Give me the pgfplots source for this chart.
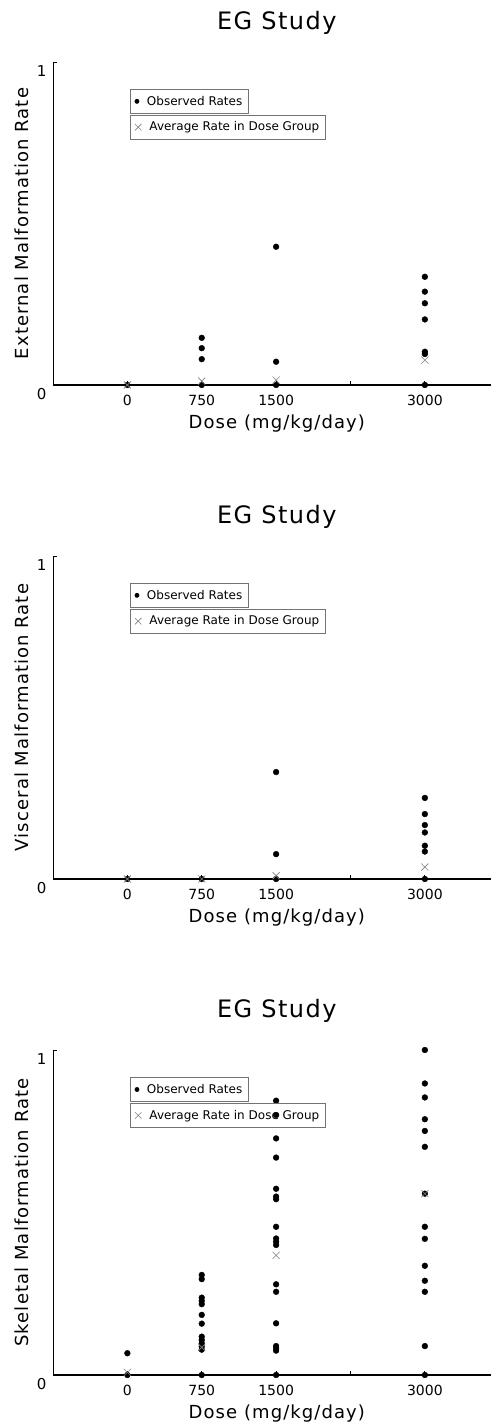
\documentclass[border=0pt]{standalone}
\usepackage{fontspec}
\setmainfont{DejaVu Sans}
\newfontfamily\spacedfont[LetterSpace=6]{DejaVu Sans}
\usepackage{pgfplots}
\pgfplotsset{compat=1.18}

\definecolor{avggray}{gray}{0.5}
\definecolor{boxgray}{gray}{0.45}

\pgfplotsset{
  egbase/.style={
    scale only axis, width=438pt, height=323pt,
    xmin=-750, xmax=3667, ymin=0, ymax=1,
    anchor=south west,
  },
  egleg/.style={
    legend style={
      anchor=north west, draw=boxgray, line width=0.8pt, fill=none,
      inner xsep=4.5pt, inner ysep=4.5pt,
      font=\fontsize{12}{14}\selectfont,
      /tikz/every odd column/.append style={column sep=6pt},
    },
    legend cell align=left,
  },
  egframe/.style={
    egbase, egleg,
    axis x line=bottom, axis y line=left,
    axis line style={-},
    x axis line style={line width=2pt, black},
    y axis line style={line width=0.9pt, black},
    axis on top,
    xtick={0,750,1500,2250,3000}, xticklabels={0,750,1500,,3000},
    ytick={0,1}, yticklabels={0,1},
    tick align=inside, major tick length=4pt,
    tick style={black, line width=0.8pt},
    xticklabel style={font=\fontsize{14}{14}\selectfont, yshift=-7pt},
    yticklabel style={font=\fontsize{15}{15}\selectfont, yshift=-9pt, xshift=-3pt},
    title style={at={(axis description cs:0.511,1.102)}, anchor=center,
      font=\spacedfont\fontsize{24}{24}\selectfont},
    xlabel style={at={(axis description cs:0.511,-0.118)}, anchor=center,
      font=\spacedfont\fontsize{18}{18}\selectfont},
    ylabel style={at={(axis description cs:-0.0708,0.5)}, anchor=center,
      font=\spacedfont\fontsize{18}{18}\selectfont},
    title={EG Study},
    xlabel={Dose (mg/kg/day)},
    legend style={at={(axis description cs:0.176,0.916)}},
    legend image code/.code={\draw[mark repeat=1,##1,mark size=2pt] plot coordinates {(0pt,0pt)};},
  },
  egover/.style={
    egbase, egleg, hide axis,
    legend style={at={(axis description cs:0.176,0.836)}},
    legend image code/.code={\draw[mark repeat=1,##1,mark size=4.6pt] plot coordinates {(0pt,0pt)};},
  },
  obs/.style={only marks, mark=*, mark size=2.9pt, black, mark options={fill=black, draw=black}},
  avg/.style={only marks, mark=x, mark size=5pt, avggray, mark options={line width=0.6pt}},
}

\begin{document}
\begin{tikzpicture}
\useasboundingbox (0,0) rectangle (491pt,1428pt);

% ---------------- External malformations ----------------
\begin{axis}[egframe, at={(53pt,1043pt)}, ylabel={External Malformation Rate}]
\addplot[obs] coordinates {
  (0,0)
  (750,0.146) (750,0.114) (750,0.080) (750,0)
  (1500,0.428) (1500,0.072) (1500,0)
  (3000,0.335) (3000,0.289) (3000,0.253) (3000,0.203) (3000,0.103) (3000,0.096) (3000,0)
};
\addlegendentry{Observed Rates}
\end{axis}
\begin{axis}[egover, at={(53pt,1043pt)}]
\addplot[avg] coordinates {(0,0) (750,0.012) (1500,0.015) (3000,0.077)};
\addlegendentry{Average Rate in Dose Group}
\end{axis}

% ---------------- Visceral malformations ----------------
\begin{axis}[egframe, at={(53pt,549pt)}, ylabel={Visceral Malformation Rate}]
\addplot[obs] coordinates {
  (0,0)
  (750,0)
  (1500,0.331) (1500,0.077) (1500,0)
  (3000,0.251) (3000,0.201) (3000,0.167) (3000,0.144) (3000,0.103) (3000,0.085) (3000,0)
};
\addlegendentry{Observed Rates}
\end{axis}
\begin{axis}[egover, at={(53pt,549pt)}]
\addplot[avg] coordinates {(0,0) (750,0) (1500,0.010) (3000,0.037)};
\addlegendentry{Average Rate in Dose Group}
\end{axis}

% ---------------- Skeletal malformations ----------------
\begin{axis}[egframe, height=325pt, at={(53pt,53pt)}, ylabel={Skeletal Malformation Rate}]
\addplot[obs] coordinates {
  (0,0.067) (0,0)
  (750,0.308) (750,0.295) (750,0.238) (750,0.228) (750,0.218) (750,0.185) (750,0.158)
  (750,0.118) (750,0.108) (750,0.098) (750,0.088) (750,0.078) (750,0)
  (1500,0.844) (1500,0.800) (1500,0.728) (1500,0.669) (1500,0.573) (1500,0.549) (1500,0.541)
  (1500,0.456) (1500,0.420) (1500,0.410) (1500,0.400) (1500,0.279) (1500,0.256) (1500,0.159)
  (1500,0.089) (1500,0.082) (1500,0.075) (1500,0)
  (3000,1.000) (3000,0.897) (3000,0.854) (3000,0.787) (3000,0.751) (3000,0.702) (3000,0.558)
  (3000,0.456) (3000,0.419) (3000,0.336) (3000,0.290) (3000,0.256) (3000,0.089) (3000,0)
};
\addlegendentry{Observed Rates}
\end{axis}
\begin{axis}[egover, height=325pt, at={(53pt,53pt)}]
\addplot[avg] coordinates {(0,0.008) (750,0.085) (1500,0.368) (3000,0.558)};
\addlegendentry{Average Rate in Dose Group}
\end{axis}
\end{tikzpicture}
\end{document}
